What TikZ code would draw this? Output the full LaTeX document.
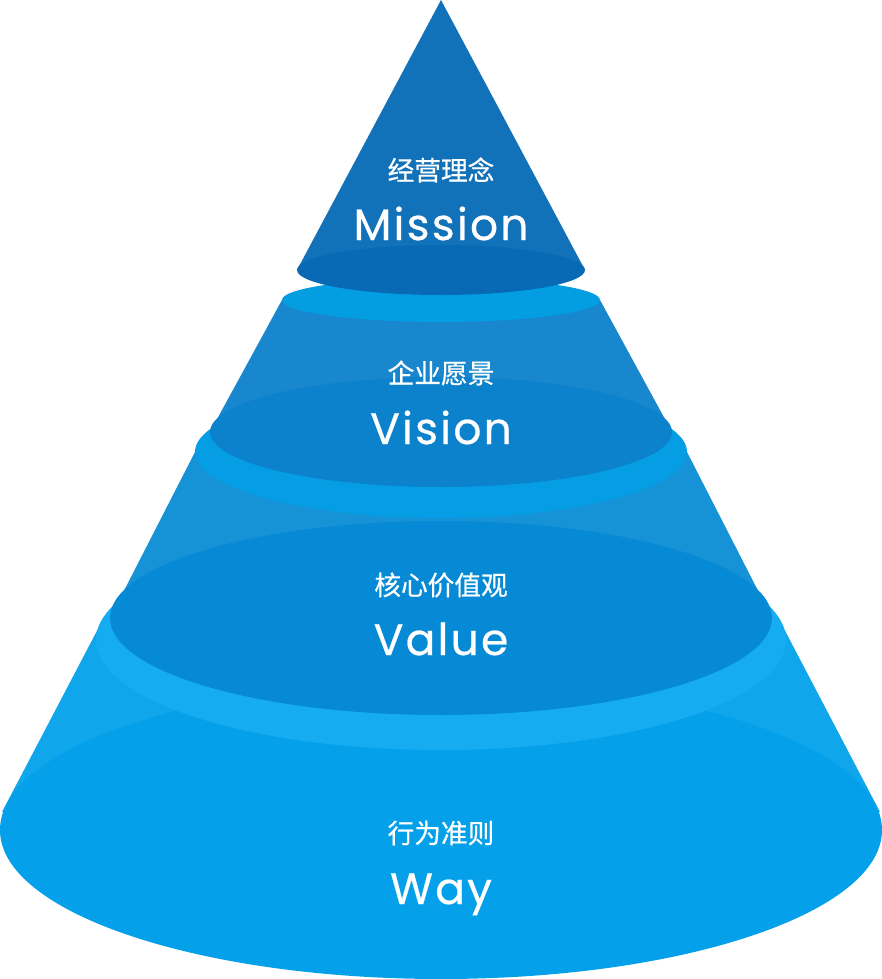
\documentclass[tikz,border=0pt]{standalone}
\usepackage{fontspec}
\usepackage{tikz}
\setmainfont{Poppins}
\newfontfamily\cjkfont[FakeBold=0.6]{Noto Sans CJK SC}
\newfontfamily\wordfont[LetterSpace=5,FakeBold=0.5]{Poppins}
\definecolor{missionside}{RGB}{17,114,185}
\definecolor{missionface}{RGB}{8,106,180}
\definecolor{visionring}{RGB}{3,158,226}
\definecolor{visionside}{RGB}{24,135,205}
\definecolor{visionface}{RGB}{11,130,203}
\definecolor{valuering}{RGB}{5,158,228}
\definecolor{valueside}{RGB}{22,146,215}
\definecolor{valueface}{RGB}{7,138,213}
\definecolor{wayring}{RGB}{22,172,242}
\definecolor{wayside}{RGB}{16,166,236}
\definecolor{wayface}{RGB}{4,160,233}

\begin{document}
\begin{tikzpicture}[x=0.75pt, y=-0.75pt,
    cn/.style={text=white, font=\cjkfont\fontsize{20}{24}\selectfont},
    en/.style={text=white, anchor=base, font=\wordfont\fontsize{33}{40}\selectfont}
]
\useasboundingbox (0,0) rectangle (882,979);

% Way
\fill[wayside] (100,625) -- (2,812) -- (880,812) -- (782,625) -- cycle;
\fill[wayface] (441,830) ellipse [x radius=441, y radius=149];
\fill[wayring] (441,640) ellipse [x radius=345, y radius=110];

% Value
\fill[valueside] (195,452) -- (110,618) -- (772,618) -- (687,452) -- cycle;
\fill[valueface] (441,618) ellipse [x radius=331, y radius=97];
\fill[valuering] (441,452) ellipse [x radius=246, y radius=66];

% Vision
\fill[visionside] (282,300) -- (210,432) -- (672,432) -- (600,300) -- cycle;
\fill[visionface] (441,432) ellipse [x radius=231, y radius=55];
\fill[visionring] (441,300) ellipse [x radius=159, y radius=22];

% Mission
\fill[missionside] (441,0) -- (297,270) -- (585,270) -- cycle;
\fill[missionface] (441,270) ellipse [x radius=144, y radius=25];

\node[cn] (missioncn) at (441,170) {经营理念};
\node[en] (missionen) at (441,240) {Mission};
\node[cn] (visioncn) at (441,373) {企业愿景};
\node[en] (visionen) at (441,444) {Vision};
\node[cn] (valuecn) at (441,585) {核心价值观};
\node[en] (valueen) at (441,655) {Value};
\node[cn] (waycn) at (441,833) {行为准则};
\node[en] (wayen) at (441,904) {Way};

\end{tikzpicture}
\end{document}
